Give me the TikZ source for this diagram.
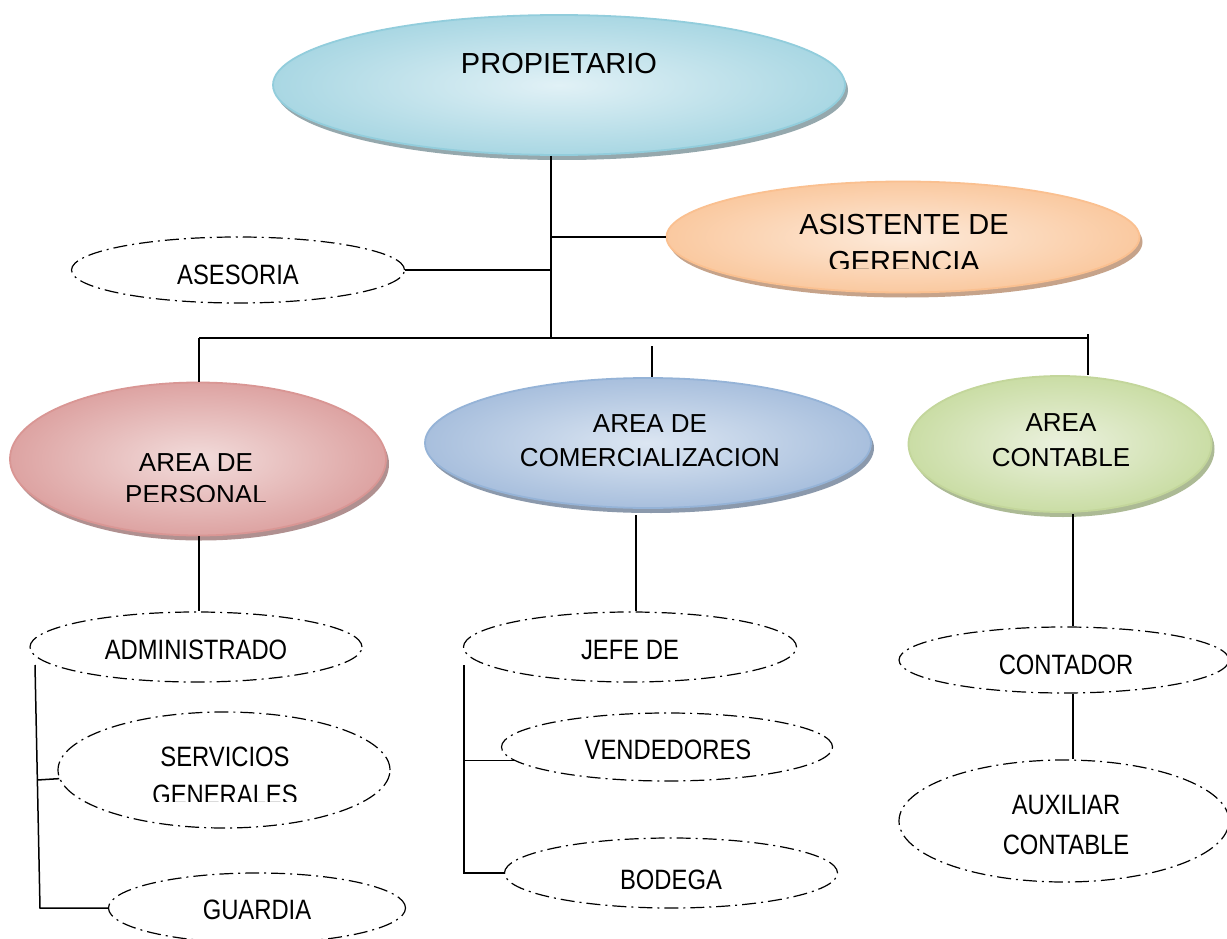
\documentclass[tikz,border=0pt]{standalone}
\usepackage{fontspec}
\setmainfont{Liberation Sans}
\newfontfamily\narrowfont[FakeStretch=0.85]{Liberation Sans}
\usetikzlibrary{shapes.geometric,shadows}
\definecolor{propB}{HTML}{92CDDC}\definecolor{propI}{HTML}{E1F1F6}\definecolor{propO}{HTML}{A9D7E3}\definecolor{propS}{HTML}{8A9FA5}
\definecolor{asisB}{HTML}{FAC090}\definecolor{asisI}{HTML}{FDEADA}\definecolor{asisO}{HTML}{FAC9A0}\definecolor{asisS}{HTML}{C09A7E}
\definecolor{persB}{HTML}{D99694}\definecolor{persI}{HTML}{F2DCDB}\definecolor{persO}{HTML}{DDA3A2}\definecolor{persS}{HTML}{A88584}
\definecolor{comB}{HTML}{95B3D7}\definecolor{comI}{HTML}{DCE6F2}\definecolor{comO}{HTML}{A8BFDD}\definecolor{comS}{HTML}{7F8EA3}
\definecolor{contB}{HTML}{C3D69B}\definecolor{contI}{HTML}{EBF1DE}\definecolor{contO}{HTML}{CADDA5}\definecolor{contS}{HTML}{A4B38A}
\tikzset{
  filledell/.style n args={4}{ellipse, inner sep=0pt, draw=#1, line width=1.8pt,
    inner color=#2, outer color=#3,
    drop shadow={shadow xshift=3pt, shadow yshift=-5pt, fill=#4, opacity=0.9}},
  dashell/.style={ellipse, inner sep=0pt, draw=black, line width=1.2pt,
    dash pattern=on 14pt off 5pt on 2pt off 5pt},
  conn/.style={draw=black, line width=1.5pt},
  bigtxt/.style={inner sep=0pt, align=center, font=\fontsize{29}{37}\selectfont},
  areatxt/.style={inner sep=0pt, align=center, font=\fontsize{26}{#1}\selectfont},
  smalltxt/.style={inner sep=0pt, align=center, font=\narrowfont\fontsize{28}{#1}\selectfont},
}
\begin{document}
\begin{tikzpicture}[x=1pt,y=-1pt]
\useasboundingbox[fill=white] (0,0) rectangle (1227,939);

% ---- ellipses ----
\node[filledell={propB}{propI}{propO}{propS}, minimum width=572pt, minimum height=140pt] (prop) at (559,85) {};
\node[filledell={asisB}{asisI}{asisO}{asisS}, minimum width=473pt, minimum height=111pt] (asis) at (903,237) {};
\node[dashell, minimum width=333pt, minimum height=66pt] (ases) at (238,270) {};
\node[filledell={persB}{persI}{persO}{persS}, minimum width=376pt, minimum height=153pt] (pers) at (198,459) {};
\node[filledell={comB}{comI}{comO}{comS}, minimum width=446pt, minimum height=130pt] (com) at (648,443) {};
\node[filledell={contB}{contI}{contO}{contS}, minimum width=303pt, minimum height=136pt] (cont) at (1060,444) {};

\node[dashell, minimum width=332pt, minimum height=70pt] (adm) at (196,647) {};
\node[dashell, minimum width=332pt, minimum height=116pt] (serv) at (224,770) {};
\node[dashell, minimum width=297pt, minimum height=70pt] (guard) at (257,908) {};
\node[dashell, minimum width=333pt, minimum height=70pt] (jefe) at (630,647) {};
\node[dashell, minimum width=331pt, minimum height=68pt] (vend) at (667,747) {};
\node[dashell, minimum width=333pt, minimum height=70pt] (bod) at (671,873) {};
\node[dashell, minimum width=330pt, minimum height=66pt] (contador) at (1064,660) {};
\node[dashell, minimum width=330pt, minimum height=122pt] (aux) at (1064,821) {};

% ---- texts ----
\node[bigtxt] (t-prop) at (559,64) {PROPIETARIO};
\begin{scope}
  \clip (667,180) rectangle (1143,268);
  \node[bigtxt] (t-asis) at (904,243.5) {ASISTENTE DE\\GERENCIA};
\end{scope}
\node[smalltxt=34] (t-ases) at (238,275) {ASESORIA};
\begin{scope}
  \clip (10,383) rectangle (388,501);
  \node[areatxt=32] (t-pers) at (196,479) {AREA DE\\PERSONAL};
\end{scope}
\node[areatxt=34] (t-com) at (650,441) {AREA DE\\COMERCIALIZACION};
\node[areatxt=35] (t-cont) at (1061,440.5) {AREA\\CONTABLE};
\node[smalltxt=34] (t-adm) at (196,650) {ADMINISTRADO};
\begin{scope}
  \clip (58,712) rectangle (390,801);
  \node[smalltxt=38] (t-serv) at (225,776) {SERVICIOS\\GENERALES};
\end{scope}
\node[smalltxt=34] (t-guard) at (257,910) {GUARDIA};
\node[smalltxt=34] (t-jefe) at (630,650) {JEFE DE};
\node[smalltxt=34] (t-vend) at (668,750) {VENDEDORES};
\node[smalltxt=34] (t-bod) at (671,880) {BODEGA};
\node[smalltxt=34] (t-contador) at (1066,665) {CONTADOR};
\node[smalltxt=40] (t-aux) at (1066,825) {AUXILIAR\\CONTABLE};

% ---- connectors ----
\coordinate (j) at (551,338);
\draw[conn] (j |- prop.south) -- (j);
\draw[conn] (asis.west -| j) -- (asis.west);
\draw[conn] (ases.east) -- (ases.east -| j);
\coordinate (bl) at (199,338);
\coordinate (br) at (1088,338);
\draw[conn] (bl) -- (br);
\draw[conn] (bl) -- (bl |- pers.north);
\coordinate (cm) at (652,346);
\draw[conn] (cm) -- (cm |- com.north);
\coordinate (ct) at (1088,334);
\draw[conn] (ct) -- (ct |- cont.north);

\draw[conn] (pers.south -| bl) -- (bl |- adm.north);
\coordinate (cd) at (636,515);
\draw[conn] (cd) -- (cd |- jefe.north);
\coordinate (cc) at (1073,514);
\draw[conn] (cc) -- (cc |- contador.north);
\draw[conn] (contador.south -| cc) -- (aux.north -| cc);

\coordinate (at) at (35,665);
\coordinate (ab) at (40,908);
\draw[conn] (at) -- (ab) -- (guard.west);
\coordinate (as) at (37.4,780);
\draw[conn] (as) -- (serv.183.5);

\coordinate (jt) at (464,665);
\draw[conn] (jt) -- (jt |- bod.west) -- (bod.west);
\draw[conn] (jt |- vend.185) -- (vend.185);
\end{tikzpicture}
\end{document}
